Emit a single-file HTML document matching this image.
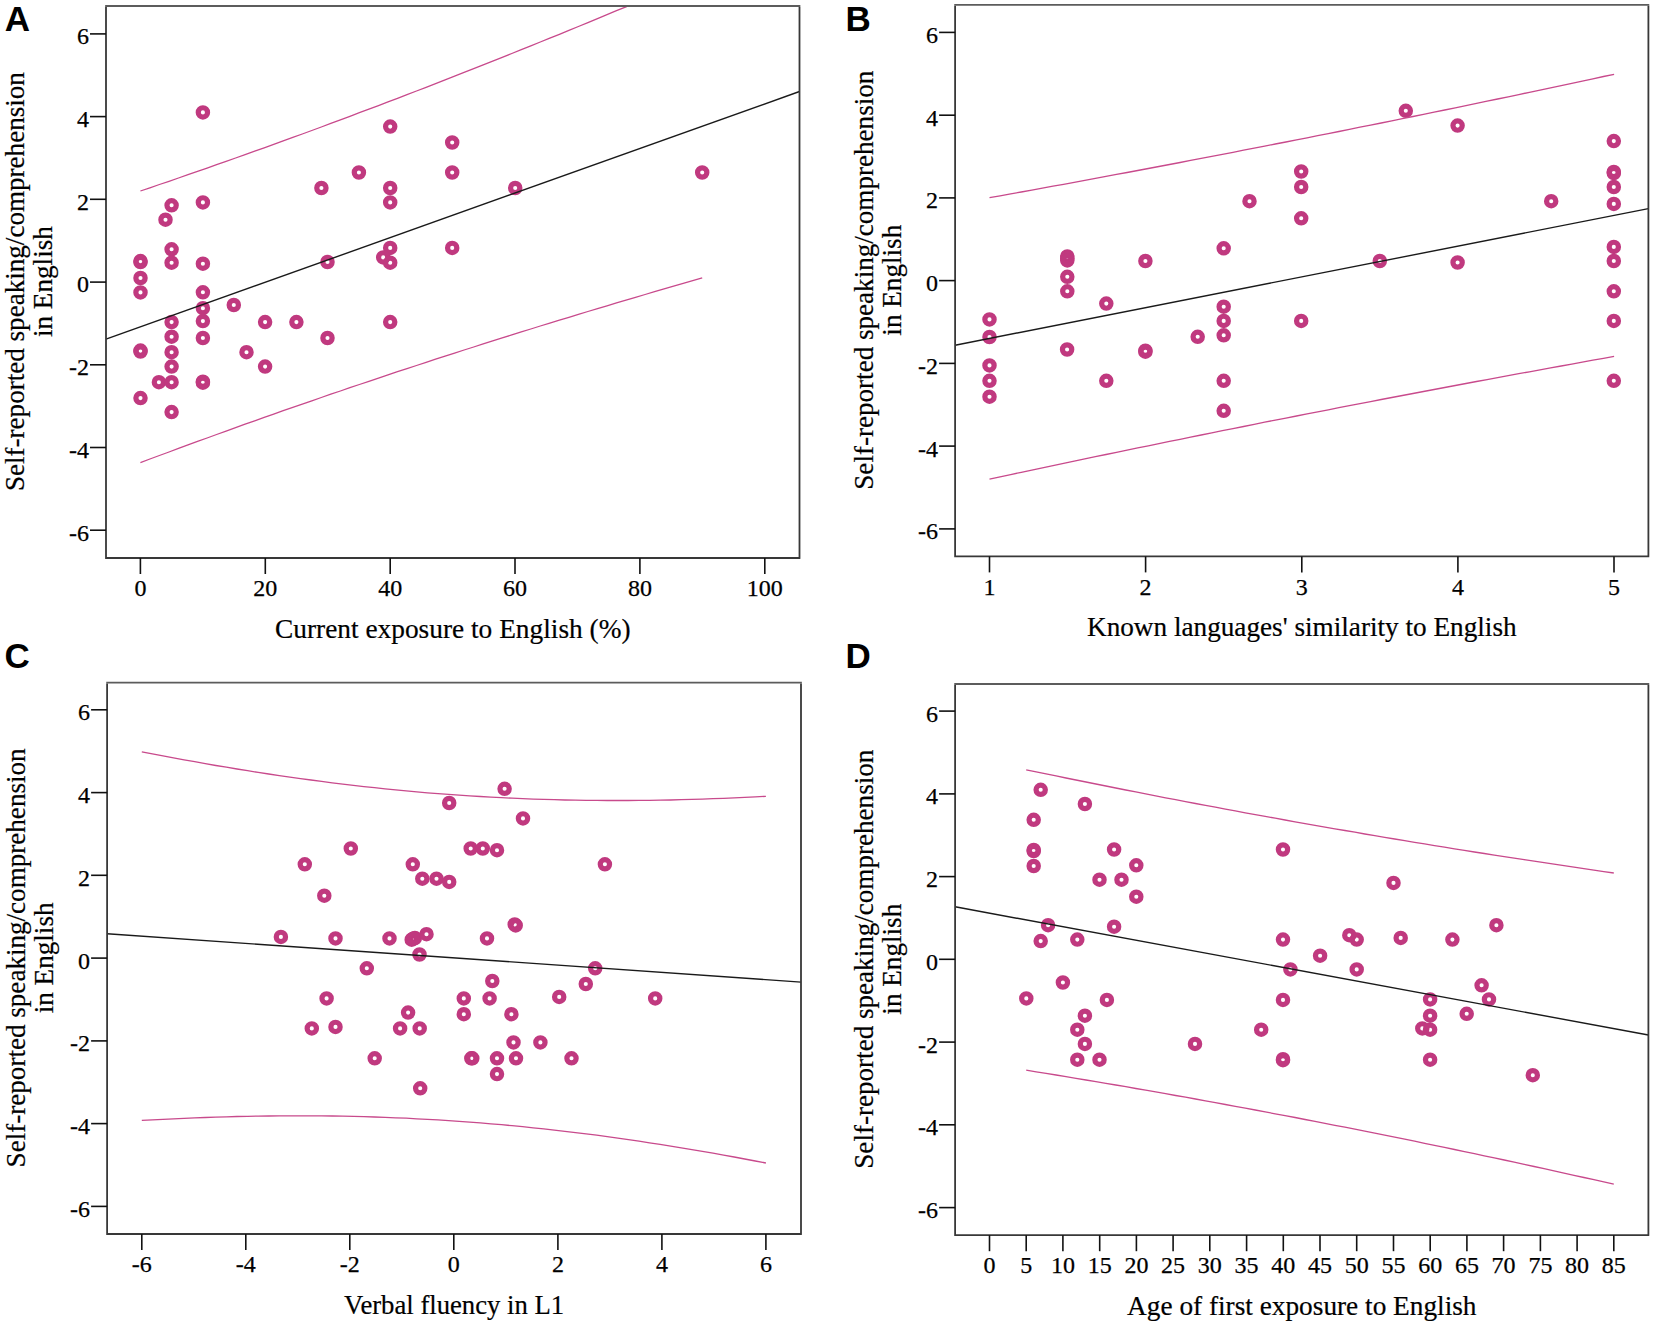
<!DOCTYPE html>
<html><head><meta charset="utf-8"><title>Figure</title>
<style>html,body{margin:0;padding:0;background:#fff;}svg{display:block;}</style>
</head><body>
<svg width="1654" height="1324" viewBox="0 0 1654 1324">
<rect width="100%" height="100%" fill="#fff"/>
<defs><clipPath id="clipA"><rect x="106" y="6" width="693.5" height="552"/></clipPath><clipPath id="clipB"><rect x="955.1" y="4.8" width="693.3000000000001" height="551.6"/></clipPath><clipPath id="clipC"><rect x="107.1" y="682.6" width="693.9" height="551.4"/></clipPath><clipPath id="clipD"><rect x="955.1" y="684.0" width="693.3000000000001" height="551.2"/></clipPath></defs>
<g id="panelA"><g fill="none" stroke="#c0397f" stroke-width="5.2"><circle cx="202.9" cy="112.4" r="4.65"/><circle cx="390.2" cy="126.6" r="4.65"/><circle cx="452.2" cy="142.5" r="4.65"/><circle cx="452.2" cy="172.5" r="4.65"/><circle cx="358.9" cy="172.5" r="4.65"/><circle cx="321.4" cy="188" r="4.65"/><circle cx="390.2" cy="188" r="4.65"/><circle cx="390.2" cy="202.4" r="4.65"/><circle cx="202.9" cy="202.4" r="4.65"/><circle cx="171.6" cy="205.3" r="4.65"/><circle cx="165.5" cy="219.7" r="4.65"/><circle cx="171.6" cy="249.3" r="4.65"/><circle cx="390.2" cy="247.9" r="4.65"/><circle cx="452.2" cy="247.9" r="4.65"/><circle cx="140.5" cy="261.1" r="4.65"/><circle cx="140.5" cy="262.1" r="4.65"/><circle cx="171.6" cy="262.7" r="4.65"/><circle cx="202.9" cy="263.7" r="4.65"/><circle cx="327.5" cy="262" r="4.65"/><circle cx="383.2" cy="257.4" r="4.65"/><circle cx="390.2" cy="262.7" r="4.65"/><circle cx="140.5" cy="278.0" r="4.65"/><circle cx="515.2" cy="188" r="4.65"/><circle cx="702.2" cy="172.5" r="4.65"/><circle cx="140.5" cy="292.4" r="4.65"/><circle cx="202.9" cy="292.3" r="4.65"/><circle cx="233.8" cy="305" r="4.65"/><circle cx="202.9" cy="308.2" r="4.65"/><circle cx="171.6" cy="322.1" r="4.65"/><circle cx="202.9" cy="321.1" r="4.65"/><circle cx="265.1" cy="322.1" r="4.65"/><circle cx="296.4" cy="322.1" r="4.65"/><circle cx="390.2" cy="322.1" r="4.65"/><circle cx="171.6" cy="336.7" r="4.65"/><circle cx="202.9" cy="338" r="4.65"/><circle cx="327.5" cy="338" r="4.65"/><circle cx="140.5" cy="350.6" r="4.65"/><circle cx="140.5" cy="351.6" r="4.65"/><circle cx="171.6" cy="352.2" r="4.65"/><circle cx="246.5" cy="352.2" r="4.65"/><circle cx="171.6" cy="366.6" r="4.65"/><circle cx="265.1" cy="366.6" r="4.65"/><circle cx="158.9" cy="382.2" r="4.65"/><circle cx="171.6" cy="382.2" r="4.65"/><circle cx="202.9" cy="381.7" r="4.65"/><circle cx="202.9" cy="382.7" r="4.65"/><circle cx="140.5" cy="398.1" r="4.65"/><circle cx="171.6" cy="412.1" r="4.65"/></g><g clip-path="url(#clipA)" fill="none" stroke="#c84a8c" stroke-width="1.3"><polyline points="140.4,191.0 149.9,187.8 159.4,184.5 169.0,181.3 178.5,178.0 188.0,174.7 197.5,171.4 207.1,168.1 216.6,164.7 226.1,161.4 235.6,158.0 245.1,154.6 254.7,151.2 264.2,147.8 273.7,144.4 283.2,140.9 292.8,137.4 302.3,134.0 311.8,130.5 321.3,127.0 330.8,123.4 340.4,119.9 349.9,116.3 359.4,112.7 368.9,109.2 378.5,105.6 388.0,101.9 397.5,98.3 407.0,94.6 416.5,91.0 426.1,87.3 435.6,83.6 445.1,79.9 454.6,76.2 464.1,72.4 473.7,68.7 483.2,64.9 492.7,61.1 502.2,57.3 511.8,53.5 521.3,49.7 530.8,45.9 540.3,42.0 549.8,38.1 559.4,34.3 568.9,30.4 578.4,26.5 587.9,22.6 597.5,18.6 607.0,14.7 616.5,10.7 626.0,6.8 635.5,2.8 645.1,-1.2 654.6,-5.2 664.1,-9.2 673.6,-13.3 683.2,-17.3 692.7,-21.3 702.2,-25.4"/><polyline points="140.4,462.6 149.9,459.0 159.4,455.5 169.0,452.0 178.5,448.4 188.0,444.9 197.5,441.4 207.1,438.0 216.6,434.5 226.1,431.1 235.6,427.6 245.1,424.2 254.7,420.8 264.2,417.4 273.7,414.1 283.2,410.7 292.8,407.4 302.3,404.1 311.8,400.8 321.3,397.5 330.8,394.2 340.4,391.0 349.9,387.7 359.4,384.5 368.9,381.3 378.5,378.1 388.0,374.9 397.5,371.7 407.0,368.6 416.5,365.5 426.1,362.3 435.6,359.2 445.1,356.1 454.6,353.1 464.1,350.0 473.7,347.0 483.2,343.9 492.7,340.9 502.2,337.9 511.8,334.9 521.3,331.9 530.8,329.0 540.3,326.0 549.8,323.1 559.4,320.2 568.9,317.3 578.4,314.4 587.9,311.5 597.5,308.6 607.0,305.8 616.5,302.9 626.0,300.1 635.5,297.3 645.1,294.5 654.6,291.7 664.1,288.9 673.6,286.1 683.2,283.3 692.7,280.6 702.2,277.8"/></g><line x1="106" y1="339.1" x2="799.5" y2="91.5" stroke="#1a1a1a" stroke-width="1.4"/><path d="M105.15,6 H800.35" stroke="#5c5c5c" stroke-width="1.8" fill="none"/><path d="M106,6.9 V558.85 M105.15,558 H800.35 M799.5,558 V6.9" stroke="#383838" stroke-width="1.8" fill="none"/><g stroke="#111" stroke-width="1.6"><line x1="90" y1="33.9" x2="106" y2="33.9"/><line x1="90" y1="116.6" x2="106" y2="116.6"/><line x1="90" y1="199.3" x2="106" y2="199.3"/><line x1="90" y1="282.1" x2="106" y2="282.1"/><line x1="90" y1="364.8" x2="106" y2="364.8"/><line x1="90" y1="447.5" x2="106" y2="447.5"/><line x1="90" y1="530.2" x2="106" y2="530.2"/><line x1="140.4" y1="558" x2="140.4" y2="574"/><line x1="265.3" y1="558" x2="265.3" y2="574"/><line x1="390.2" y1="558" x2="390.2" y2="574"/><line x1="515.0" y1="558" x2="515.0" y2="574"/><line x1="639.9" y1="558" x2="639.9" y2="574"/><line x1="764.8" y1="558" x2="764.8" y2="574"/></g><g font-family="Liberation Serif, serif" font-size="24" fill="#000" stroke="#000" stroke-width="0.25"><text x="89" y="44.3" text-anchor="end">6</text><text x="89" y="127.0" text-anchor="end">4</text><text x="89" y="209.7" text-anchor="end">2</text><text x="89" y="292.4" text-anchor="end">0</text><text x="89" y="375.2" text-anchor="end">-2</text><text x="89" y="457.9" text-anchor="end">-4</text><text x="89" y="540.6" text-anchor="end">-6</text><text x="140.4" y="596.1" text-anchor="middle">0</text><text x="265.3" y="596.1" text-anchor="middle">20</text><text x="390.2" y="596.1" text-anchor="middle">40</text><text x="515.0" y="596.1" text-anchor="middle">60</text><text x="639.9" y="596.1" text-anchor="middle">80</text><text x="764.8" y="596.1" text-anchor="middle">100</text></g><text x="452.8" y="637.9" text-anchor="middle" font-family="Liberation Serif, serif" font-size="27.2" stroke="#000" stroke-width="0.2" textLength="355.5" lengthAdjust="spacingAndGlyphs">Current exposure to English (%)</text><text transform="translate(23.8,281.6) rotate(-90)" text-anchor="middle" font-family="Liberation Serif, serif" font-size="27.2" stroke="#000" stroke-width="0.2" textLength="419" lengthAdjust="spacingAndGlyphs">Self-reported speaking/comprehension</text><text transform="translate(52.0,281.6) rotate(-90)" text-anchor="middle" font-family="Liberation Serif, serif" font-size="27.2" stroke="#000" stroke-width="0.2" textLength="110.9" lengthAdjust="spacingAndGlyphs">in English</text><text x="4.8" y="31.0" font-family="Liberation Sans, sans-serif" font-weight="bold" font-size="35">A</text></g>
<g id="panelB"><g fill="none" stroke="#c0397f" stroke-width="5.2"><circle cx="1301.2" cy="171.5" r="4.65"/><circle cx="1301.2" cy="187" r="4.65"/><circle cx="1249.5" cy="201.2" r="4.65"/><circle cx="1301.2" cy="218.3" r="4.65"/><circle cx="1223.7" cy="248.3" r="4.65"/><circle cx="1067.3" cy="256.5" r="4.65"/><circle cx="1067.3" cy="258.5" r="4.65"/><circle cx="1067.3" cy="260.4" r="4.65"/><circle cx="1145.4" cy="261" r="4.65"/><circle cx="1067.3" cy="276.8" r="4.65"/><circle cx="1067.3" cy="291.3" r="4.65"/><circle cx="1106.3" cy="303.6" r="4.65"/><circle cx="989.5" cy="319.4" r="4.65"/><circle cx="989.5" cy="337" r="4.65"/><circle cx="1067.1" cy="349.5" r="4.65"/><circle cx="1145.4" cy="350.7" r="4.65"/><circle cx="1145.4" cy="351.7" r="4.65"/><circle cx="1197.7" cy="336.8" r="4.65"/><circle cx="1223.7" cy="306.7" r="4.65"/><circle cx="1223.7" cy="320.9" r="4.65"/><circle cx="1223.7" cy="335.3" r="4.65"/><circle cx="1301.2" cy="320.9" r="4.65"/><circle cx="989.5" cy="365.4" r="4.65"/><circle cx="989.5" cy="380.8" r="4.65"/><circle cx="989.5" cy="396.7" r="4.65"/><circle cx="1106.3" cy="380.8" r="4.65"/><circle cx="1223.7" cy="380.8" r="4.65"/><circle cx="1223.7" cy="410.8" r="4.65"/><circle cx="1405.8" cy="110.8" r="4.65"/><circle cx="1457.6" cy="125.6" r="4.65"/><circle cx="1613.8" cy="141.1" r="4.65"/><circle cx="1613.8" cy="172.0" r="4.65"/><circle cx="1613.8" cy="173.0" r="4.65"/><circle cx="1613.8" cy="187" r="4.65"/><circle cx="1613.8" cy="203.9" r="4.65"/><circle cx="1551.2" cy="201.2" r="4.65"/><circle cx="1613.8" cy="246.9" r="4.65"/><circle cx="1613.8" cy="261" r="4.65"/><circle cx="1379.8" cy="261" r="4.65"/><circle cx="1457.6" cy="262.5" r="4.65"/><circle cx="1613.8" cy="291.3" r="4.65"/><circle cx="1613.8" cy="320.9" r="4.65"/><circle cx="1613.8" cy="380.8" r="4.65"/></g><g clip-path="url(#clipB)" fill="none" stroke="#c84a8c" stroke-width="1.3"><polyline points="989.5,197.7 1000.1,195.8 1010.7,193.9 1021.3,192.0 1031.8,190.1 1042.4,188.1 1053.0,186.2 1063.6,184.3 1074.2,182.3 1084.8,180.3 1095.4,178.4 1106.0,176.4 1116.5,174.4 1127.1,172.5 1137.7,170.5 1148.3,168.5 1158.9,166.5 1169.5,164.5 1180.1,162.5 1190.6,160.4 1201.2,158.4 1211.8,156.4 1222.4,154.3 1233.0,152.3 1243.6,150.2 1254.2,148.2 1264.7,146.1 1275.3,144.0 1285.9,142.0 1296.5,139.9 1307.1,137.8 1317.7,135.7 1328.3,133.6 1338.9,131.5 1349.4,129.3 1360.0,127.2 1370.6,125.1 1381.2,123.0 1391.8,120.8 1402.4,118.7 1413.0,116.5 1423.5,114.3 1434.1,112.2 1444.7,110.0 1455.3,107.8 1465.9,105.6 1476.5,103.4 1487.1,101.2 1497.6,99.0 1508.2,96.8 1518.8,94.6 1529.4,92.3 1540.0,90.1 1550.6,87.8 1561.2,85.6 1571.8,83.3 1582.3,81.1 1592.9,78.8 1603.5,76.5 1614.1,74.3"/><polyline points="989.5,479.1 1000.1,476.8 1010.7,474.6 1021.3,472.3 1031.8,470.1 1042.4,467.8 1053.0,465.6 1063.6,463.4 1074.2,461.1 1084.8,458.9 1095.4,456.7 1106.0,454.5 1116.5,452.3 1127.1,450.1 1137.7,447.9 1148.3,445.8 1158.9,443.6 1169.5,441.4 1180.1,439.3 1190.6,437.1 1201.2,435.0 1211.8,432.8 1222.4,430.7 1233.0,428.6 1243.6,426.5 1254.2,424.4 1264.7,422.2 1275.3,420.1 1285.9,418.1 1296.5,416.0 1307.1,413.9 1317.7,411.8 1328.3,409.8 1338.9,407.7 1349.4,405.6 1360.0,403.6 1370.6,401.6 1381.2,399.5 1391.8,397.5 1402.4,395.5 1413.0,393.5 1423.5,391.5 1434.1,389.5 1444.7,387.5 1455.3,385.5 1465.9,383.5 1476.5,381.5 1487.1,379.6 1497.6,377.6 1508.2,375.6 1518.8,373.7 1529.4,371.8 1540.0,369.8 1550.6,367.9 1561.2,366.0 1571.8,364.1 1582.3,362.1 1592.9,360.2 1603.5,358.3 1614.1,356.4"/></g><line x1="955.1" y1="345.2" x2="1648.4" y2="208.6" stroke="#1a1a1a" stroke-width="1.4"/><path d="M954.25,4.8 H1649.25" stroke="#5c5c5c" stroke-width="1.8" fill="none"/><path d="M955.1,5.7 V557.25 M954.25,556.4 H1649.25 M1648.4,556.4 V5.7" stroke="#383838" stroke-width="1.8" fill="none"/><g stroke="#111" stroke-width="1.6"><line x1="939.1" y1="32.4" x2="955.1" y2="32.4"/><line x1="939.1" y1="115.2" x2="955.1" y2="115.2"/><line x1="939.1" y1="197.9" x2="955.1" y2="197.9"/><line x1="939.1" y1="280.6" x2="955.1" y2="280.6"/><line x1="939.1" y1="363.4" x2="955.1" y2="363.4"/><line x1="939.1" y1="446.1" x2="955.1" y2="446.1"/><line x1="939.1" y1="528.9" x2="955.1" y2="528.9"/><line x1="989.5" y1="556.4" x2="989.5" y2="572.4"/><line x1="1145.6" y1="556.4" x2="1145.6" y2="572.4"/><line x1="1301.8" y1="556.4" x2="1301.8" y2="572.4"/><line x1="1457.9" y1="556.4" x2="1457.9" y2="572.4"/><line x1="1614.0" y1="556.4" x2="1614.0" y2="572.4"/></g><g font-family="Liberation Serif, serif" font-size="24" fill="#000" stroke="#000" stroke-width="0.25"><text x="938.1" y="42.8" text-anchor="end">6</text><text x="938.1" y="125.6" text-anchor="end">4</text><text x="938.1" y="208.3" text-anchor="end">2</text><text x="938.1" y="291.0" text-anchor="end">0</text><text x="938.1" y="373.8" text-anchor="end">-2</text><text x="938.1" y="456.5" text-anchor="end">-4</text><text x="938.1" y="539.3" text-anchor="end">-6</text><text x="989.5" y="594.5" text-anchor="middle">1</text><text x="1145.6" y="594.5" text-anchor="middle">2</text><text x="1301.8" y="594.5" text-anchor="middle">3</text><text x="1457.9" y="594.5" text-anchor="middle">4</text><text x="1614.0" y="594.5" text-anchor="middle">5</text></g><text x="1301.8" y="636.3" text-anchor="middle" font-family="Liberation Serif, serif" font-size="27.2" stroke="#000" stroke-width="0.2" textLength="429.6" lengthAdjust="spacingAndGlyphs">Known languages' similarity to English</text><text transform="translate(872.9,280.2) rotate(-90)" text-anchor="middle" font-family="Liberation Serif, serif" font-size="27.2" stroke="#000" stroke-width="0.2" textLength="419" lengthAdjust="spacingAndGlyphs">Self-reported speaking/comprehension</text><text transform="translate(901.1,280.2) rotate(-90)" text-anchor="middle" font-family="Liberation Serif, serif" font-size="27.2" stroke="#000" stroke-width="0.2" textLength="110.9" lengthAdjust="spacingAndGlyphs">in English</text><text x="845.4" y="30.9" font-family="Liberation Sans, sans-serif" font-weight="bold" font-size="35">B</text></g>
<g id="panelC"><g fill="none" stroke="#c0397f" stroke-width="5.2"><circle cx="449.2" cy="803" r="4.65"/><circle cx="350.8" cy="848.5" r="4.65"/><circle cx="304.8" cy="864.3" r="4.65"/><circle cx="412.8" cy="864.3" r="4.65"/><circle cx="422.3" cy="878.7" r="4.65"/><circle cx="436.5" cy="878.7" r="4.65"/><circle cx="449.2" cy="881.9" r="4.65"/><circle cx="324.3" cy="895.7" r="4.65"/><circle cx="280.9" cy="936.9" r="4.65"/><circle cx="335.5" cy="938.4" r="4.65"/><circle cx="389.5" cy="938.4" r="4.65"/><circle cx="411.7" cy="939.7" r="4.65"/><circle cx="414.9" cy="938.0" r="4.65"/><circle cx="413.0" cy="938.8" r="4.65"/><circle cx="426.5" cy="934.2" r="4.65"/><circle cx="419.5" cy="954.5" r="4.65"/><circle cx="366.8" cy="968.3" r="4.65"/><circle cx="326.6" cy="998.4" r="4.65"/><circle cx="311.8" cy="1028.4" r="4.65"/><circle cx="335.5" cy="1026.9" r="4.65"/><circle cx="408.1" cy="1012.6" r="4.65"/><circle cx="400.1" cy="1028.4" r="4.65"/><circle cx="419.7" cy="1028.4" r="4.65"/><circle cx="374.7" cy="1058.3" r="4.65"/><circle cx="420.2" cy="1088.3" r="4.65"/><circle cx="504.6" cy="788.8" r="4.65"/><circle cx="523" cy="818.4" r="4.65"/><circle cx="470.7" cy="848.5" r="4.65"/><circle cx="482.8" cy="848.5" r="4.65"/><circle cx="497" cy="850.2" r="4.65"/><circle cx="604.9" cy="864.3" r="4.65"/><circle cx="514.7" cy="924.4" r="4.65"/><circle cx="515.7" cy="925.4" r="4.65"/><circle cx="487" cy="938.4" r="4.65"/><circle cx="595.2" cy="968.3" r="4.65"/><circle cx="492.3" cy="981" r="4.65"/><circle cx="585.8" cy="984" r="4.65"/><circle cx="463.8" cy="998.4" r="4.65"/><circle cx="489.6" cy="998.4" r="4.65"/><circle cx="559.2" cy="996.9" r="4.65"/><circle cx="655.2" cy="998.4" r="4.65"/><circle cx="463.8" cy="1014.2" r="4.65"/><circle cx="511.4" cy="1014.2" r="4.65"/><circle cx="513.5" cy="1042.4" r="4.65"/><circle cx="540.4" cy="1042.4" r="4.65"/><circle cx="471.3" cy="1058.3" r="4.65"/><circle cx="472.3" cy="1058.3" r="4.65"/><circle cx="497" cy="1058.3" r="4.65"/><circle cx="516" cy="1058.3" r="4.65"/><circle cx="571.5" cy="1058.3" r="4.65"/><circle cx="497" cy="1074.1" r="4.65"/></g><g clip-path="url(#clipC)" fill="none" stroke="#c84a8c" stroke-width="1.3"><polyline points="141.8,751.8 152.4,753.9 163.0,755.9 173.5,757.9 184.1,759.8 194.7,761.7 205.3,763.6 215.8,765.5 226.4,767.2 237.0,769.0 247.6,770.7 258.2,772.4 268.7,774.0 279.3,775.6 289.9,777.1 300.5,778.6 311.0,780.0 321.6,781.4 332.2,782.8 342.8,784.1 353.4,785.4 363.9,786.6 374.5,787.7 385.1,788.8 395.7,789.9 406.2,790.9 416.8,791.8 427.4,792.8 438.0,793.6 448.6,794.4 459.1,795.2 469.7,795.9 480.3,796.5 490.9,797.1 501.5,797.7 512.0,798.2 522.6,798.6 533.2,799.1 543.8,799.4 554.3,799.7 564.9,800.0 575.5,800.2 586.1,800.3 596.7,800.4 607.2,800.5 617.8,800.5 628.4,800.5 639.0,800.4 649.5,800.3 660.1,800.2 670.7,800.0 681.3,799.7 691.9,799.4 702.4,799.1 713.0,798.7 723.6,798.3 734.2,797.9 744.7,797.4 755.3,796.9 765.9,796.3"/><polyline points="141.8,1120.4 152.4,1119.8 163.0,1119.3 173.5,1118.8 184.1,1118.3 194.7,1117.9 205.3,1117.5 215.8,1117.1 226.4,1116.8 237.0,1116.5 247.6,1116.3 258.2,1116.1 268.7,1116.0 279.3,1115.8 289.9,1115.8 300.5,1115.8 311.0,1115.8 321.6,1115.9 332.2,1116.0 342.8,1116.2 353.4,1116.4 363.9,1116.7 374.5,1117.0 385.1,1117.4 395.7,1117.8 406.2,1118.2 416.8,1118.8 427.4,1119.3 438.0,1119.9 448.6,1120.6 459.1,1121.3 469.7,1122.1 480.3,1122.9 490.9,1123.8 501.5,1124.7 512.0,1125.7 522.6,1126.7 533.2,1127.8 543.8,1128.9 554.3,1130.1 564.9,1131.3 575.5,1132.6 586.1,1133.9 596.7,1135.2 607.2,1136.7 617.8,1138.1 628.4,1139.6 639.0,1141.2 649.5,1142.8 660.1,1144.4 670.7,1146.1 681.3,1147.8 691.9,1149.6 702.4,1151.4 713.0,1153.2 723.6,1155.1 734.2,1157.0 744.7,1159.0 755.3,1161.0 765.9,1163.0"/></g><line x1="107.1" y1="933.7" x2="801" y2="982.1" stroke="#1a1a1a" stroke-width="1.4"/><path d="M106.25,682.6 H801.85" stroke="#5c5c5c" stroke-width="1.8" fill="none"/><path d="M107.1,683.5 V1234.85 M106.25,1234.0 H801.85 M801,1234.0 V683.5" stroke="#383838" stroke-width="1.8" fill="none"/><g stroke="#111" stroke-width="1.6"><line x1="91.1" y1="709.8" x2="107.1" y2="709.8"/><line x1="91.1" y1="792.6" x2="107.1" y2="792.6"/><line x1="91.1" y1="875.3" x2="107.1" y2="875.3"/><line x1="91.1" y1="958.1" x2="107.1" y2="958.1"/><line x1="91.1" y1="1040.9" x2="107.1" y2="1040.9"/><line x1="91.1" y1="1123.6" x2="107.1" y2="1123.6"/><line x1="91.1" y1="1206.4" x2="107.1" y2="1206.4"/><line x1="141.8" y1="1234.0" x2="141.8" y2="1250.0"/><line x1="245.8" y1="1234.0" x2="245.8" y2="1250.0"/><line x1="349.8" y1="1234.0" x2="349.8" y2="1250.0"/><line x1="453.8" y1="1234.0" x2="453.8" y2="1250.0"/><line x1="557.9" y1="1234.0" x2="557.9" y2="1250.0"/><line x1="661.9" y1="1234.0" x2="661.9" y2="1250.0"/><line x1="765.9" y1="1234.0" x2="765.9" y2="1250.0"/></g><g font-family="Liberation Serif, serif" font-size="24" fill="#000" stroke="#000" stroke-width="0.25"><text x="90.1" y="720.2" text-anchor="end">6</text><text x="90.1" y="803.0" text-anchor="end">4</text><text x="90.1" y="885.7" text-anchor="end">2</text><text x="90.1" y="968.5" text-anchor="end">0</text><text x="90.1" y="1051.3" text-anchor="end">-2</text><text x="90.1" y="1134.0" text-anchor="end">-4</text><text x="90.1" y="1216.8" text-anchor="end">-6</text><text x="141.8" y="1272.1" text-anchor="middle">-6</text><text x="245.8" y="1272.1" text-anchor="middle">-4</text><text x="349.8" y="1272.1" text-anchor="middle">-2</text><text x="453.8" y="1272.1" text-anchor="middle">0</text><text x="557.9" y="1272.1" text-anchor="middle">2</text><text x="661.9" y="1272.1" text-anchor="middle">4</text><text x="765.9" y="1272.1" text-anchor="middle">6</text></g><text x="454.1" y="1313.9" text-anchor="middle" font-family="Liberation Serif, serif" font-size="27.2" stroke="#000" stroke-width="0.2" textLength="220" lengthAdjust="spacingAndGlyphs">Verbal fluency in L1</text><text transform="translate(24.9,957.9) rotate(-90)" text-anchor="middle" font-family="Liberation Serif, serif" font-size="27.2" stroke="#000" stroke-width="0.2" textLength="419" lengthAdjust="spacingAndGlyphs">Self-reported speaking/comprehension</text><text transform="translate(53.1,957.9) rotate(-90)" text-anchor="middle" font-family="Liberation Serif, serif" font-size="27.2" stroke="#000" stroke-width="0.2" textLength="110.9" lengthAdjust="spacingAndGlyphs">in English</text><text x="4.6" y="668.0" font-family="Liberation Sans, sans-serif" font-weight="bold" font-size="35">C</text></g>
<g id="panelD"><g fill="none" stroke="#c0397f" stroke-width="5.2"><circle cx="1040.7" cy="789.8" r="4.65"/><circle cx="1084.9" cy="804" r="4.65"/><circle cx="1033.7" cy="819.8" r="4.65"/><circle cx="1033.7" cy="850.0" r="4.65"/><circle cx="1033.7" cy="851.0" r="4.65"/><circle cx="1114.1" cy="849.5" r="4.65"/><circle cx="1033.7" cy="866" r="4.65"/><circle cx="1136.3" cy="865.3" r="4.65"/><circle cx="1099.5" cy="879.7" r="4.65"/><circle cx="1121.5" cy="879.7" r="4.65"/><circle cx="1136.3" cy="896.7" r="4.65"/><circle cx="1283" cy="849.5" r="4.65"/><circle cx="1048.1" cy="925.2" r="4.65"/><circle cx="1114.1" cy="926.7" r="4.65"/><circle cx="1040.7" cy="941.1" r="4.65"/><circle cx="1077.3" cy="939.6" r="4.65"/><circle cx="1283" cy="939.6" r="4.65"/><circle cx="1290.4" cy="969.4" r="4.65"/><circle cx="1062.9" cy="982.5" r="4.65"/><circle cx="1026.3" cy="998.4" r="4.65"/><circle cx="1106.9" cy="999.9" r="4.65"/><circle cx="1283" cy="999.9" r="4.65"/><circle cx="1084.9" cy="1015.7" r="4.65"/><circle cx="1077.3" cy="1029.7" r="4.65"/><circle cx="1084.9" cy="1043.9" r="4.65"/><circle cx="1195" cy="1043.9" r="4.65"/><circle cx="1261.2" cy="1029.7" r="4.65"/><circle cx="1077.3" cy="1059.7" r="4.65"/><circle cx="1099.5" cy="1059.7" r="4.65"/><circle cx="1283" cy="1059.2" r="4.65"/><circle cx="1283" cy="1060.2" r="4.65"/><circle cx="1393.5" cy="882.9" r="4.65"/><circle cx="1496.4" cy="925.2" r="4.65"/><circle cx="1349.3" cy="935.2" r="4.65"/><circle cx="1356.7" cy="939.6" r="4.65"/><circle cx="1400.7" cy="937.9" r="4.65"/><circle cx="1452.4" cy="939.6" r="4.65"/><circle cx="1320.1" cy="955.7" r="4.65"/><circle cx="1356.7" cy="969.4" r="4.65"/><circle cx="1481.6" cy="985.3" r="4.65"/><circle cx="1489" cy="999.4" r="4.65"/><circle cx="1430.1" cy="999.4" r="4.65"/><circle cx="1430.1" cy="1015.7" r="4.65"/><circle cx="1466.7" cy="1013.8" r="4.65"/><circle cx="1422.3" cy="1028.4" r="4.65"/><circle cx="1430.1" cy="1029.7" r="4.65"/><circle cx="1430.1" cy="1059.7" r="4.65"/><circle cx="1532.8" cy="1075.2" r="4.65"/></g><g clip-path="url(#clipD)" fill="none" stroke="#c84a8c" stroke-width="1.3"><polyline points="1026.2,769.8 1036.2,771.8 1046.1,773.9 1056.1,775.9 1066.0,778.0 1076.0,780.0 1086.0,782.0 1095.9,784.0 1105.9,786.0 1115.8,788.0 1125.8,790.0 1135.8,791.9 1145.7,793.9 1155.7,795.8 1165.6,797.8 1175.6,799.7 1185.5,801.6 1195.5,803.5 1205.5,805.4 1215.4,807.2 1225.4,809.1 1235.3,810.9 1245.3,812.8 1255.3,814.6 1265.2,816.4 1275.2,818.2 1285.1,820.0 1295.1,821.8 1305.1,823.6 1315.0,825.3 1325.0,827.1 1334.9,828.8 1344.9,830.5 1354.9,832.2 1364.8,834.0 1374.8,835.6 1384.7,837.3 1394.7,839.0 1404.7,840.7 1414.6,842.3 1424.6,843.9 1434.5,845.6 1444.5,847.2 1454.5,848.8 1464.4,850.4 1474.4,852.0 1484.3,853.5 1494.3,855.1 1504.2,856.6 1514.2,858.2 1524.2,859.7 1534.1,861.2 1544.1,862.7 1554.0,864.2 1564.0,865.7 1574.0,867.2 1583.9,868.7 1593.9,870.1 1603.8,871.6 1613.8,873.0"/><polyline points="1026.2,1070.1 1036.2,1071.8 1046.1,1073.4 1056.1,1075.0 1066.0,1076.7 1076.0,1078.3 1086.0,1080.0 1095.9,1081.6 1105.9,1083.3 1115.8,1085.0 1125.8,1086.7 1135.8,1088.5 1145.7,1090.2 1155.7,1091.9 1165.6,1093.7 1175.6,1095.5 1185.5,1097.2 1195.5,1099.0 1205.5,1100.8 1215.4,1102.6 1225.4,1104.5 1235.3,1106.3 1245.3,1108.1 1255.3,1110.0 1265.2,1111.9 1275.2,1113.8 1285.1,1115.6 1295.1,1117.5 1305.1,1119.5 1315.0,1121.4 1325.0,1123.3 1334.9,1125.3 1344.9,1127.2 1354.9,1129.2 1364.8,1131.2 1374.8,1133.2 1384.7,1135.2 1394.7,1137.2 1404.7,1139.2 1414.6,1141.2 1424.6,1143.3 1434.5,1145.3 1444.5,1147.4 1454.5,1149.5 1464.4,1151.6 1474.4,1153.7 1484.3,1155.8 1494.3,1157.9 1504.2,1160.0 1514.2,1162.2 1524.2,1164.3 1534.1,1166.5 1544.1,1168.7 1554.0,1170.9 1564.0,1173.1 1574.0,1175.3 1583.9,1177.5 1593.9,1179.7 1603.8,1181.9 1613.8,1184.2"/></g><line x1="955.1" y1="906.8" x2="1648.4" y2="1035.0" stroke="#1a1a1a" stroke-width="1.4"/><path d="M954.25,684.0 H1649.25" stroke="#5c5c5c" stroke-width="1.8" fill="none"/><path d="M955.1,684.9 V1236.05 M954.25,1235.2 H1649.25 M1648.4,1235.2 V684.9" stroke="#383838" stroke-width="1.8" fill="none"/><g stroke="#111" stroke-width="1.6"><line x1="939.1" y1="711.1" x2="955.1" y2="711.1"/><line x1="939.1" y1="793.9" x2="955.1" y2="793.9"/><line x1="939.1" y1="876.6" x2="955.1" y2="876.6"/><line x1="939.1" y1="959.3" x2="955.1" y2="959.3"/><line x1="939.1" y1="1042.1" x2="955.1" y2="1042.1"/><line x1="939.1" y1="1124.8" x2="955.1" y2="1124.8"/><line x1="939.1" y1="1207.6" x2="955.1" y2="1207.6"/><line x1="989.5" y1="1235.2" x2="989.5" y2="1251.2"/><line x1="1026.2" y1="1235.2" x2="1026.2" y2="1251.2"/><line x1="1062.9" y1="1235.2" x2="1062.9" y2="1251.2"/><line x1="1099.7" y1="1235.2" x2="1099.7" y2="1251.2"/><line x1="1136.4" y1="1235.2" x2="1136.4" y2="1251.2"/><line x1="1173.1" y1="1235.2" x2="1173.1" y2="1251.2"/><line x1="1209.8" y1="1235.2" x2="1209.8" y2="1251.2"/><line x1="1246.6" y1="1235.2" x2="1246.6" y2="1251.2"/><line x1="1283.3" y1="1235.2" x2="1283.3" y2="1251.2"/><line x1="1320.0" y1="1235.2" x2="1320.0" y2="1251.2"/><line x1="1356.7" y1="1235.2" x2="1356.7" y2="1251.2"/><line x1="1393.5" y1="1235.2" x2="1393.5" y2="1251.2"/><line x1="1430.2" y1="1235.2" x2="1430.2" y2="1251.2"/><line x1="1466.9" y1="1235.2" x2="1466.9" y2="1251.2"/><line x1="1503.6" y1="1235.2" x2="1503.6" y2="1251.2"/><line x1="1540.4" y1="1235.2" x2="1540.4" y2="1251.2"/><line x1="1577.1" y1="1235.2" x2="1577.1" y2="1251.2"/><line x1="1613.8" y1="1235.2" x2="1613.8" y2="1251.2"/></g><g font-family="Liberation Serif, serif" font-size="24" fill="#000" stroke="#000" stroke-width="0.25"><text x="938.1" y="721.5" text-anchor="end">6</text><text x="938.1" y="804.2" text-anchor="end">4</text><text x="938.1" y="887.0" text-anchor="end">2</text><text x="938.1" y="969.7" text-anchor="end">0</text><text x="938.1" y="1052.5" text-anchor="end">-2</text><text x="938.1" y="1135.2" text-anchor="end">-4</text><text x="938.1" y="1218.0" text-anchor="end">-6</text><text x="989.5" y="1273.3" text-anchor="middle">0</text><text x="1026.2" y="1273.3" text-anchor="middle">5</text><text x="1062.9" y="1273.3" text-anchor="middle">10</text><text x="1099.7" y="1273.3" text-anchor="middle">15</text><text x="1136.4" y="1273.3" text-anchor="middle">20</text><text x="1173.1" y="1273.3" text-anchor="middle">25</text><text x="1209.8" y="1273.3" text-anchor="middle">30</text><text x="1246.6" y="1273.3" text-anchor="middle">35</text><text x="1283.3" y="1273.3" text-anchor="middle">40</text><text x="1320.0" y="1273.3" text-anchor="middle">45</text><text x="1356.7" y="1273.3" text-anchor="middle">50</text><text x="1393.5" y="1273.3" text-anchor="middle">55</text><text x="1430.2" y="1273.3" text-anchor="middle">60</text><text x="1466.9" y="1273.3" text-anchor="middle">65</text><text x="1503.6" y="1273.3" text-anchor="middle">70</text><text x="1540.4" y="1273.3" text-anchor="middle">75</text><text x="1577.1" y="1273.3" text-anchor="middle">80</text><text x="1613.8" y="1273.3" text-anchor="middle">85</text></g><text x="1301.8" y="1315.1" text-anchor="middle" font-family="Liberation Serif, serif" font-size="27.2" stroke="#000" stroke-width="0.2" textLength="349.4" lengthAdjust="spacingAndGlyphs">Age of first exposure to English</text><text transform="translate(872.9,959.2) rotate(-90)" text-anchor="middle" font-family="Liberation Serif, serif" font-size="27.2" stroke="#000" stroke-width="0.2" textLength="419" lengthAdjust="spacingAndGlyphs">Self-reported speaking/comprehension</text><text transform="translate(901.1,959.2) rotate(-90)" text-anchor="middle" font-family="Liberation Serif, serif" font-size="27.2" stroke="#000" stroke-width="0.2" textLength="110.9" lengthAdjust="spacingAndGlyphs">in English</text><text x="845.4" y="667.6" font-family="Liberation Sans, sans-serif" font-weight="bold" font-size="35">D</text></g>
</svg>
</body></html>
